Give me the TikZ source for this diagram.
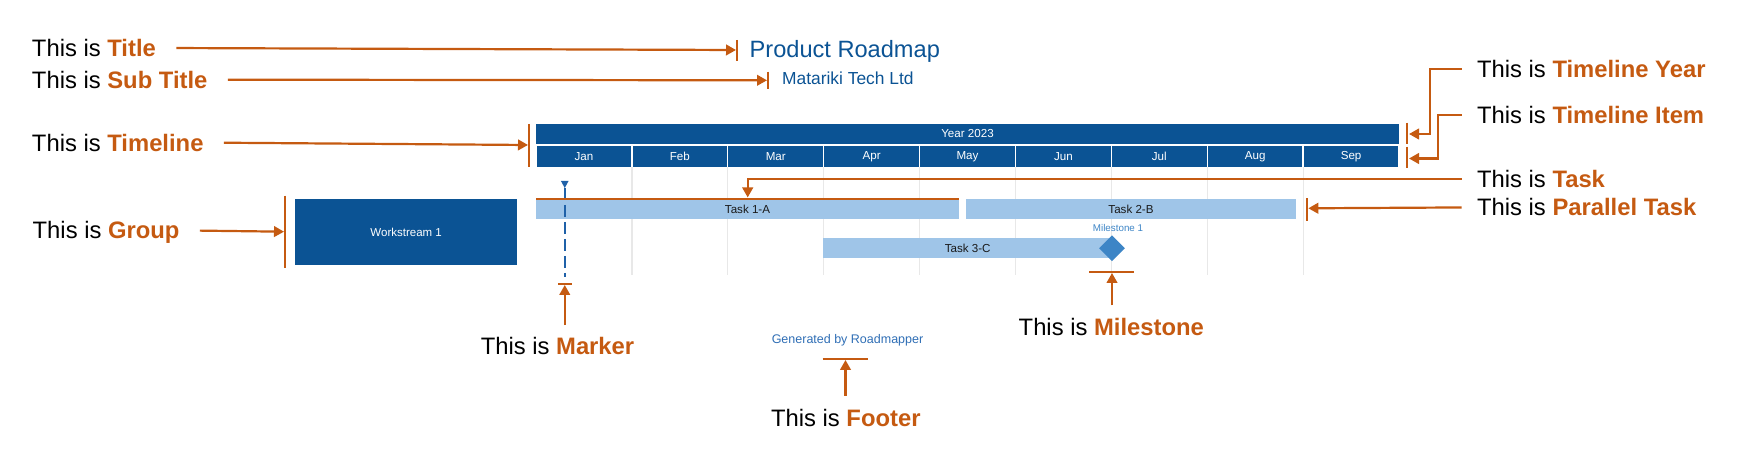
\documentclass[tikz,border=0pt]{standalone}
\usepackage{fontspec}
\setmainfont{Liberation Sans}
\usetikzlibrary{arrows.meta,fit,shapes.geometric,calc}
\definecolor{orn}{HTML}{C55A11}
\definecolor{dblue}{HTML}{0B5394}
\definecolor{lblue}{HTML}{9FC5E8}
\definecolor{mblue}{HTML}{3D85C6}
\definecolor{gridc}{HTML}{E8E8E8}
\definecolor{mkblue}{HTML}{1F61A8}
\definecolor{ftblue}{HTML}{2F6EB5}
\definecolor{tasktxt}{HTML}{1A1A1A}
\begin{document}
\begin{tikzpicture}[x=0.5pt,y=-0.5pt,
  lbl/.style={font=\fontsize{11.9}{13}\selectfont, inner sep=0pt, text depth=0pt, anchor=base west},
  arr/.style={draw=orn, line width=1.1pt, -{Triangle[length=5pt,width=5.3pt]}},
  tickline/.style={draw=orn, line width=1.1pt},
  smalltxt/.style={font=\fontsize{5.8}{7}\selectfont, inner sep=0pt},
  cell/.style={fill=dblue, draw=none, inner sep=0pt},
  taskbar/.style={fill=lblue, draw=none, inner sep=0pt}
]
\useasboundingbox (0,0) rectangle (1764,469);

% ---- title ----
\node[anchor=base west, inner sep=0pt, font=\fontsize{11.8}{13}\selectfont, text=dblue] (title) at (749.3,57.3) {Product Roadmap};
\node[anchor=base west, inner sep=0pt, font=\fontsize{8.7}{10}\selectfont, text=dblue] (subtitle) at (781.7,85) {Matariki Tech Ltd};

% ---- timeline ----
\node[cell, fit={(536,124)(1399,144)}] (year) {};
\node[smalltxt, text=white] (yeartxt) at (year.center) {Year 2023};
\foreach \m [count=\i from 0] in {Jan,Feb,Mar,Apr,May,Jun,Jul,Aug,Sep} {
  \pgfmathsetmacro\xa{536+95.89*\i+0.7}
  \pgfmathsetmacro\xb{536+95.89*(\i+1)-0.7}
  \node[cell, fit={(\xa,146.5)(\xb,166.7)}] (m\i) {};
  \node[smalltxt, text=white] (mt\i) at (m\i.center) {\m};
}
\foreach \i in {1,...,8} {
  \pgfmathsetmacro\xg{536+95.89*\i}
  \draw[gridc, line width=0.6pt] (\xg,167) -- (\xg,275);
}

% ---- tasks ----
\node[taskbar, fit={(536,199.5)(959,219.5)}] (t1) {};
\node[smalltxt, text=tasktxt] (t1txt) at (t1.center) {Task 1-A};
\node[taskbar, fit={(966,199.5)(1296,219.5)}] (t2) {};
\node[smalltxt, text=tasktxt] (t2txt) at (t2.center) {Task 2-B};
\node[taskbar, fit={(823.3,238.5)(1112,258.5)}] (t3) {};
\node[smalltxt, text=tasktxt] (t3txt) at (t3.center) {Task 3-C};
\node[diamond, aspect=1, fill=mblue, inner sep=0pt, minimum width=13pt, minimum height=13pt] (ms) at (1112,248.3) {};
\node[font=\fontsize{4.9}{6}\selectfont, text=mblue, inner sep=0pt] (msl) at (1118,227.7) {Milestone 1};

% ---- group ----
\node[cell, fit={(295,199.3)(517.3,265.3)}] (ws) {};
\node[font=\fontsize{5.75}{7}\selectfont, inner sep=0pt, text=white] (wstxt) at (ws.center) {Workstream 1};

% ---- marker ----
\coordinate (mk) at (564.75,181);
\fill[mkblue] (mk) ++(-3.8,0) -- ++(7.6,0) -- ++(-3.8,7) -- cycle;
\draw[mkblue, line width=1pt, dash pattern=on 6pt off 2.5pt] (564.75,188) -- (564.75,277);

% ---- footer ----
\node[anchor=base, inner sep=0pt, font=\fontsize{6.25}{8}\selectfont, text=ftblue] (footer) at (847.5,344) {Generated by Roadmapper};

% ---- annotation labels ----
\node[lbl] (lTitle) at (31.6,56.6) {This is \textcolor{orn}{\textbf{Title}}};
\node[lbl] (lSub) at (31.6,88.3) {This is \textcolor{orn}{\textbf{Sub Title}}};
\node[lbl] (lTimeline) at (31.6,151.2) {This is \textcolor{orn}{\textbf{Timeline}}};
\node[lbl] (lGroup) at (32.3,239) {This is \textcolor{orn}{\textbf{Group}}};
\node[lbl] (lYear) at (1476.7,77.3) {This is \textcolor{orn}{\textbf{Timeline Year}}};
\node[lbl] (lItem) at (1476.7,124) {This is \textcolor{orn}{\textbf{Timeline Item}}};
\node[lbl] (lTask) at (1476.7,187.3) {This is \textcolor{orn}{\textbf{Task}}};
\node[lbl] (lPar) at (1476.7,216) {This is \textcolor{orn}{\textbf{Parallel Task}}};
\node[lbl] (lMarker) at (480.4,354.8) {This is \textcolor{orn}{\textbf{Marker}}};
\node[lbl] (lMilestone) at (1018.3,336) {This is \textcolor{orn}{\textbf{Milestone}}};
\node[lbl] (lFooter) at (770.7,426.7) {This is \textcolor{orn}{\textbf{Footer}}};

% ---- ticks ----
\draw[tickline] (737,40) -- (737,60.7);
\coordinate (tkTitle) at (736,50);
\draw[tickline] (768,71.7) -- (768,89.3);
\coordinate (tkSub) at (767,80.3);
\draw[tickline] (529,124) -- (529,167);
\coordinate (tkTimeline) at (528,145);
\draw[tickline] (285,195.7) -- (285,268.5);
\coordinate (tkGroup) at (284,231.7);
\draw[tickline] (1406.7,122.7) -- (1406.7,144.3);
\coordinate (tkYear) at (1409,134);
\coordinate (cYear) at (1430,134);
\draw[tickline] (1406.7,146.7) -- (1406.7,168.3);
\coordinate (tkItem) at (1409,158.5);
\coordinate (cItem) at (1438,158.5);
\draw[tickline] (1306.7,198.3) -- (1306.7,220.7);
\coordinate (tkPar) at (1308.3,208.3);
\draw[tickline] (536,198.7) -- (959,198.7);
\coordinate (tkTask) at (747.7,197.5);
\draw[tickline] (558,284) -- (572,284);
\coordinate (tkMarker) at (564.75,285);
\draw[tickline] (1089,271.7) -- (1134,271.7);
\coordinate (tkMilestone) at (1112,273);
\draw[tickline] (822.7,359) -- (867.7,359);
\coordinate (tkFooter) at (845.5,360);

% ---- arrows ----
\draw[arr, shorten <=10pt] (lTitle.east) -- (tkTitle);
\draw[arr, shorten <=10pt] (lSub.east) -- (tkSub);
\draw[arr, shorten <=10pt] (lTimeline.east) -- (tkTimeline);
\draw[arr, shorten <=10pt] (lGroup.east) -- (tkGroup);
\draw[arr, shorten <=7.5pt] (lYear.west) -| (cYear) -- (tkYear);
\draw[arr, shorten <=7.5pt] (lItem.west) -| (cItem) -- (tkItem);
\draw[arr, shorten <=7.5pt] (lTask.west) -| (tkTask);
\draw[arr, shorten <=7.5pt] (lPar.west) -- (tkPar);
\draw[arr] ($(lMarker.north -| tkMarker)+(0,-12)$) -- (tkMarker);
\draw[arr] ($(lMilestone.north -| tkMilestone)+(0,-13)$) -- (tkMilestone);
\draw[arr] ($(lFooter.north -| tkFooter)+(0,-13.5)$) -- (tkFooter);
\end{tikzpicture}
\end{document}
